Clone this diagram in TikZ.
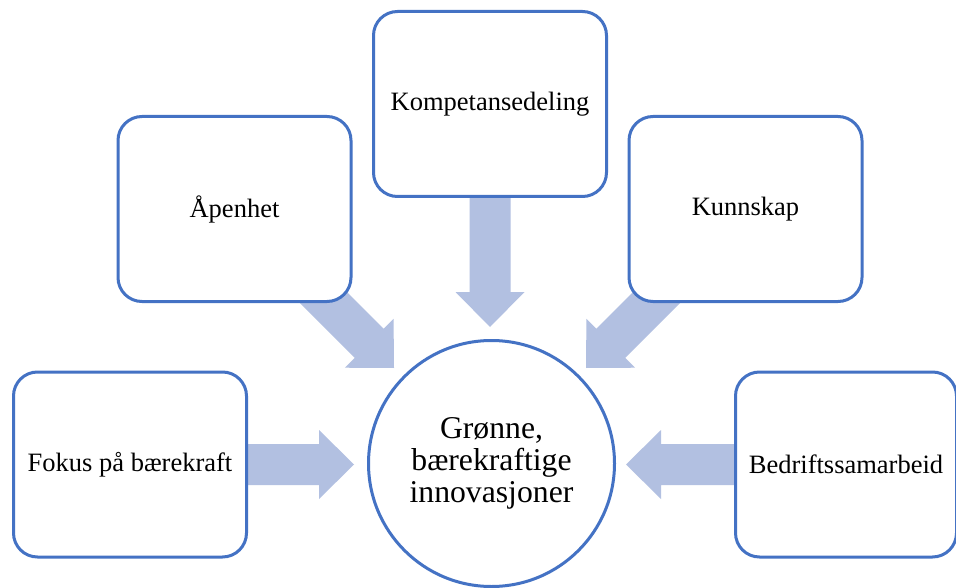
\documentclass[tikz,border=0pt]{standalone}
\usepackage{fontspec}
\setmainfont{Liberation Serif}
\usetikzlibrary{calc,backgrounds}

\definecolor{edgeblue}{RGB}{68,114,196}
\definecolor{arrowfill}{RGB}{178,192,225}

% Block arrow from the centre of #1 to the tip coordinate #2
\newcommand\blockarrow[2]{%
  \coordinate (#2-h) at ($(#2)!35pt!(#1)$);
  \fill[arrowfill] (#2)
    -- ($(#2-h)!34.5pt!90:(#2)$) -- ($(#2-h)!20.5pt!90:(#2)$)
    -- ($(#1)!20.5pt!90:(#2)$) -- ($(#1)!20.5pt!-90:(#2)$)
    -- ($(#2-h)!20.5pt!-90:(#2)$) -- ($(#2-h)!34.5pt!-90:(#2)$) -- cycle;
}

\tikzset{
  factor/.style={draw=edgeblue, line width=3pt, fill=white, rounded corners=24pt,
    minimum width=233pt, minimum height=185pt, inner sep=0pt,
    font=\fontsize{26.5}{32}\selectfont},
  goal/.style={draw=edgeblue, line width=3pt, fill=white, circle, inner sep=0pt,
    minimum size=246pt, align=center, font=\fontsize{31.7}{32}\selectfont},
}

\begin{document}
\begin{tikzpicture}[x=1pt,y=-1pt]
  \useasboundingbox (0,0) rectangle (956,588);

  % central goal and the five contributing factors
  \node[goal] (goal) at (491.5,463.5) {Grønne,\\bærekraftige\\innovasjoner};
  \node[factor] (kom) at (490,104) {Kompetansedeling};
  \node[factor] (opn) at (234.5,209) {Åpenhet};
  \node[factor] (kun) at (745.5,209) {Kunnskap};
  \node[factor] (fok) at (130,464.5) {Fokus på bærekraft};
  \node[factor, minimum width=221pt] (bed) at (846,464.5) {Bedriftssamarbeid};

  % arrow tips just outside the circle
  \coordinate (tipT) at (490,327);
  \coordinate (tipUL) at (394,368);
  \coordinate (tipUR) at (586,368);
  \coordinate (tipL) at (354,464.5);
  \coordinate (tipR) at (626,464.5);

  \begin{pgfonlayer}{background}
    \fill[white] (0,0) rectangle (956,588);
    \blockarrow{kom.center}{tipT}
    \blockarrow{opn.center}{tipUL}
    \blockarrow{kun.center}{tipUR}
    \blockarrow{fok.center}{tipL}
    \blockarrow{bed.center}{tipR}
  \end{pgfonlayer}
\end{tikzpicture}
\end{document}
